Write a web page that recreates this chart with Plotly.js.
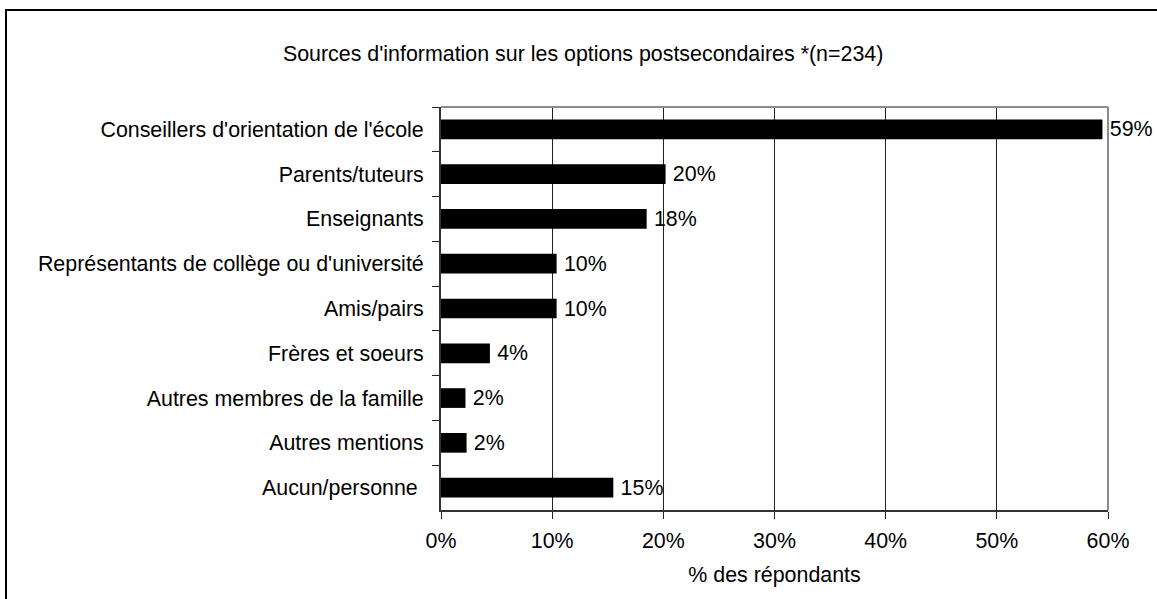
<!DOCTYPE html>
<html>
<head>
<meta charset="utf-8">
<script src="https://cdn.plot.ly/plotly-3.0.1.min.js"></script>
<style>
  html, body { margin: 0; padding: 0; background: #fff; overflow: hidden; }
  #wrap { position: relative; width: 1157px; height: 599px; }
  #chart { width: 1157px; height: 599px; }
  #frame { position: absolute; left: 5px; top: 9px; width: 1200px; height: 700px;
           border-left: 2px solid #000; border-top: 2px solid #000; pointer-events: none; }
</style>
</head>
<body>
<div id="wrap">
  <div id="chart"></div>
  <div id="frame"></div>
</div>
<script>
const categories = [
  "Conseillers d'orientation de l'école",
  "Parents/tuteurs",
  "Enseignants",
  "Représentants de collège ou d'université",
  "Amis/pairs",
  "Frères et soeurs",
  "Autres membres de la famille",
  "Autres mentions",
  "Aucun/personne\u00a0"
];
const values = [59.5, 20.2, 18.5, 10.4, 10.4, 4.4, 2.2, 2.3, 15.5];
const valueLabels = ["59%", "20%", "18%", "10%", "10%", "4%", "2%", "2%", "15%"];
const xTickVals = [0, 10, 20, 30, 40, 50, 60];
const xTickText = ["0%", "10%", "20%", "30%", "40%", "50%", "60%"];

const FONT = "'Liberation Sans', Arial, sans-serif";
const FS = 21.4;

const trace = {
  type: 'bar',
  orientation: 'h',
  x: values,
  y: categories,
  text: valueLabels.map(t => '\u2009' + t),
  textposition: 'outside',
  constraintext: 'none',
  cliponaxis: false,
  textfont: { family: FONT, size: FS, color: '#000' },
  marker: { color: '#000', line: { width: 0 } },
  hoverinfo: 'none'
};

const layout = {
  width: 1157,
  height: 599,
  margin: { l: 440.5, r: 48.7, t: 107, b: 89 },
  paper_bgcolor: '#fff',
  plot_bgcolor: '#fff',
  font: { family: FONT, size: FS, color: '#000' },
  showlegend: false,
  bargap: 0.56,
  title: {
    text: "Sources d'information sur les options postsecondaires *(n=234)",
    font: { family: FONT, size: FS, color: '#000' },
    x: 0.504, xref: 'container', xanchor: 'center',
    y: 52, yref: 'container', yanchor: 'middle'
  },
  xaxis: {
    range: [0, 60],
    tickvals: xTickVals,
    ticktext: xTickText,
    ticks: 'outside',
    ticklen: 7,
    tickwidth: 1,
    tickcolor: '#222',
    ticklabelstandoff: 3,
    showgrid: true,
    gridcolor: '#222',
    gridwidth: 1,
    showline: true,
    linecolor: '#333',
    linewidth: 2,
    zeroline: false,
    fixedrange: true,
    tickfont: { family: FONT, size: FS, color: '#000' },
    title: {
      text: '% des répondants',
      font: { family: FONT, size: FS, color: '#000' },
      standoff: 15
    }
  },
  yaxis: {
    type: 'category',
    autorange: 'reversed',
    tickson: 'boundaries',
    ticks: 'outside',
    ticklen: 7,
    tickwidth: 1,
    tickcolor: '#222',
    ticklabelstandoff: 11,
    showgrid: false,
    showline: true,
    linecolor: '#333',
    linewidth: 2,
    zeroline: false,
    fixedrange: true,
    tickfont: { family: FONT, size: FS, color: '#000' }
  },
  shapes: [
    { type: 'line', xref: 'paper', yref: 'paper', x0: 0, x1: 1, y0: 1, y1: 1,
      line: { color: '#8c8c8c', width: 2 }, layer: 'above' },
    { type: 'line', xref: 'paper', yref: 'paper', x0: 1, x1: 1, y0: 0, y1: 1,
      line: { color: '#8c8c8c', width: 2 }, layer: 'above' }
  ]
};

Plotly.newPlot('chart', [trace], layout, { staticPlot: true, displayModeBar: false });
</script>
</body>
</html>
